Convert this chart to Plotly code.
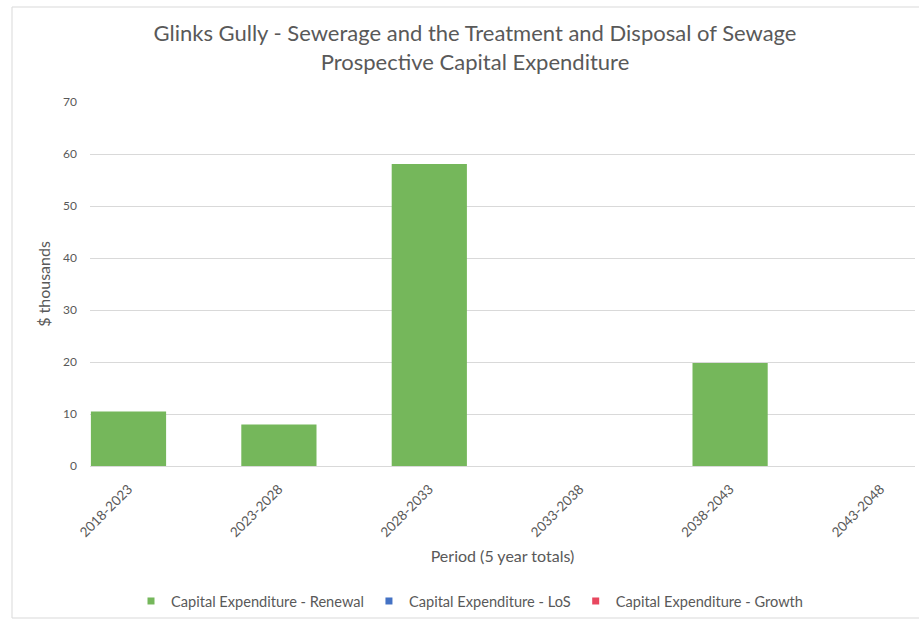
import plotly.graph_objects as go

periods = ["2018-2023", "2023-2028", "2028-2033", "2033-2038", "2038-2043", "2043-2048"]
renewal = [10.5, 8.0, 58.1, 0, 19.8, 0]
los = [0, 0, 0, 0, 0, 0]
growth = [0, 0, 0, 0, 0, 0]

series_names = ["Capital Expenditure - Renewal", "Capital Expenditure - LoS", "Capital Expenditure - Growth"]
series_colors = ["#75B75B", "#4472C4", "#E8475F"]
y_ticks = [0, 10, 20, 30, 40, 50, 60, 70]

FONT = "Lato"
TXT = "#595959"

fig = go.Figure()
for name, vals, col in zip(series_names, [renewal, los, growth], series_colors):
    fig.add_trace(go.Bar(x=periods, y=vals, name=name, marker=dict(color=col, line=dict(width=0)),
                         showlegend=False, legendgroup=name))
    fig.add_trace(go.Scatter(x=[None], y=[None], mode="markers", name=name, legendgroup=name,
                             marker=dict(symbol="square", size=7, color=col)))

W, H = 919, 622
L, R, T, B = 90, 915, 102, 466
pw, ph = R - L, B - T

fig.update_layout(
    width=W, height=H,
    margin=dict(l=L, r=W - R, t=T, b=H - B),
    paper_bgcolor="white", plot_bgcolor="white",
    font=dict(family=FONT, color=TXT),
    barmode="overlay", bargap=0.5,
    title=dict(text="Glinks Gully - Sewerage and the Treatment and Disposal of Sewage<br>Prospective Capital Expenditure",
               x=475 / W, xanchor="center", xref="container", y=1 - 41 / H, yanchor="top", yref="container",
               font=dict(family=FONT, size=22, color=TXT)),
    xaxis=dict(type="category", range=[-(128.5 - L) / 150.4, (R - 128.5) / 150.4],
               tickangle=-45, tickfont=dict(size=13.5, color=TXT), ticklabelstandoff=9,
               showline=True, linecolor="#D9D9D9", linewidth=1, showgrid=False, ticks="",
               title=dict(text="Period (5 year totals)", font=dict(size=16, color=TXT), standoff=11)),
    yaxis=dict(range=[0, 70], tickvals=y_ticks, tickfont=dict(size=12, color=TXT),
               showgrid=True, gridcolor="#D9D9D9", gridwidth=1, zeroline=False, ticks="",
               ticklabelstandoff=12,
               title=dict(text="$ thousands", font=dict(size=16, color=TXT), standoff=8)),
    legend=dict(orientation="h", x=(131 - L) / pw, xanchor="left", y=(B - 601) / ph, yanchor="middle",
                font=dict(size=14.6, color=TXT), itemwidth=30, tracegroupgap=0),
    shapes=[dict(type="rect", xref="paper", yref="paper",
                 x0=(12 - L) / pw, x1=(940 - L) / pw, y0=(B - 618) / ph, y1=(B - 7) / ph,
                 line=dict(color="#D9D9D9", width=1), fillcolor="rgba(0,0,0,0)", layer="below")],
)

fig.write_html("out.html")
